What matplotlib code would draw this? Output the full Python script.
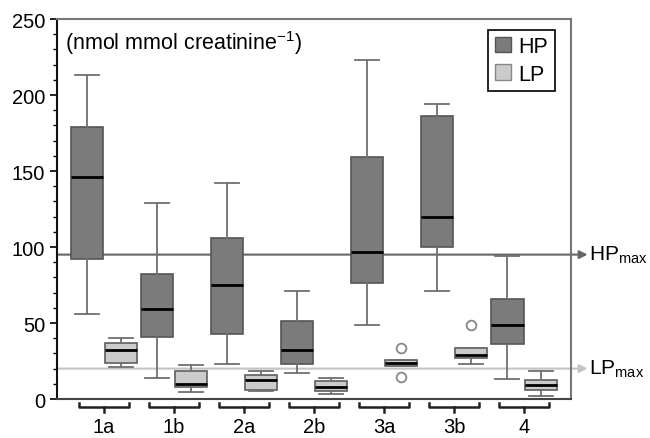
import numpy as np
import matplotlib
matplotlib.use("Agg")
import matplotlib.pyplot as plt
from matplotlib.patches import Patch
from matplotlib.ticker import MultipleLocator

plt.rcParams['font.family'] = ['Liberation Sans', 'DejaVu Sans']

# groups
groups = ['1a', '1b', '2a', '2b', '3a', '3b', '4']

# HP box stats (whisker low, q1, median, q3, whisker high)
hp_lo  = [56, 14, 23, 17, 49, 71, 13]
hp_q1  = [92, 41, 43, 23, 76, 100, 36]
hp_med = [146, 59, 75, 32, 97, 120, 49]
hp_q3  = [179, 82, 106, 51, 159, 186, 66]
hp_hi  = [213, 129, 142, 71, 223, 194, 94]

# LP box stats
lp_lo  = [21, 4.5, 5, 3.3, 21.5, 22.8, 1.8]
lp_q1  = [24, 8, 5.7, 5, 21.5, 26.8, 5.7]
lp_med = [32, 10, 12.7, 7.7, 23.7, 29.2, 9]
lp_q3  = [37, 18.4, 16, 11.6, 25.9, 33.3, 12.5]
lp_hi  = [40, 22.6, 18.6, 13.8, 25.9, 33.3, 18.6]
lp_fliers = [[], [], [], [], [33.5, 14.2], [48.9], []]

hp_max = 95
lp_max = 20

def make_stats(lo, q1, med, q3, hi, fl=None):
    out = []
    for i in range(len(lo)):
        out.append(dict(whislo=lo[i], q1=q1[i], med=med[i], q3=q3[i],
                        whishi=hi[i], fliers=(fl[i] if fl else [])))
    return out

fig = plt.figure(figsize=(6.5, 4.39), dpi=100)
ax = fig.add_axes([0.0877, 0.0888, 0.791, 0.8656])

x = np.arange(1, len(groups) + 1)
off = 0.24
w = 0.46

hp_col = '#7b7b7b'
lp_col = '#cbcbcb'
edge = '#555555'

# reference lines first so the boxes sit on top
trans = ax.get_yaxis_transform()
ax.annotate('', xy=(1.032, hp_max), xycoords=trans, xytext=(0, hp_max), textcoords=trans,
            arrowprops=dict(arrowstyle='-|>', color='#666666', lw=1.5, mutation_scale=12,
                            shrinkA=0, shrinkB=0), annotation_clip=False, zorder=1.5)
ax.annotate('', xy=(1.032, lp_max), xycoords=trans, xytext=(0, lp_max), textcoords=trans,
            arrowprops=dict(arrowstyle='-|>', color='#c4c4c4', lw=1.5, mutation_scale=12,
                            shrinkA=0, shrinkB=0), annotation_clip=False, zorder=1.5)
ax.text(1.035, hp_max, r'HP$_{\mathregular{max}}$', transform=trans, va='center', ha='left',
        fontsize=15, clip_on=False)
ax.text(1.035, lp_max, r'LP$_{\mathregular{max}}$', transform=trans, va='center', ha='left',
        fontsize=15, clip_on=False)

ax.bxp(make_stats(hp_lo, hp_q1, hp_med, hp_q3, hp_hi), positions=x - off,
       widths=w, capwidths=w * 0.75, patch_artist=True, showfliers=False,
       boxprops=dict(facecolor=hp_col, edgecolor=edge, lw=1.2),
       medianprops=dict(color='black', lw=2),
       whiskerprops=dict(color='#707070', lw=1.3),
       capprops=dict(color='#707070', lw=1.3))
ax.bxp(make_stats(lp_lo, lp_q1, lp_med, lp_q3, lp_hi, lp_fliers), positions=x + off,
       widths=w, capwidths=w * 0.75, patch_artist=True, showfliers=True,
       boxprops=dict(facecolor=lp_col, edgecolor='#5e5e5e', lw=1.2),
       medianprops=dict(color='black', lw=2),
       whiskerprops=dict(color='#707070', lw=1.3),
       capprops=dict(color='#707070', lw=1.3),
       flierprops=dict(marker='o', markerfacecolor='white', markeredgecolor='#888888',
                       markersize=7, markeredgewidth=1.3))

ax.set_xlim(0.33, 7.67)
ax.set_ylim(0, 250)

# group brackets under the axis
xt = ax.get_xaxis_transform()
for xi, g in zip(x, groups):
    ax.plot([xi - 0.36, xi - 0.36, xi + 0.36, xi + 0.36],
            [-0.0105, -0.021, -0.021, -0.0105], transform=xt, color='#222222',
            lw=1.8, clip_on=False)
    ax.plot([xi, xi], [-0.021, -0.034], transform=xt, color='#222222', lw=1.8, clip_on=False)
    ax.text(xi, -0.072, g, transform=xt, ha='center', va='center', fontsize=14.5)

ax.set_xticks([])
ax.yaxis.set_major_locator(MultipleLocator(50))
ax.yaxis.set_minor_locator(MultipleLocator(10))
ax.tick_params(axis='y', which='major', length=5, width=1.2, labelsize=14.5, direction='out')
ax.tick_params(axis='y', which='minor', length=3, width=1, direction='out')

for s in ['top', 'right']:
    ax.spines[s].set_color('#777777')
    ax.spines[s].set_linewidth(1.5)
ax.spines['bottom'].set_color('#444444')
ax.spines['bottom'].set_linewidth(1.5)
ax.spines['left'].set_color('#111111')
ax.spines['left'].set_linewidth(1.5)

ax.text(0.015, 0.94, r'(nmol mmol creatinine$^{\mathregular{-1}}$)', transform=ax.transAxes,
        fontsize=15.5, va='center', ha='left')

handles = [Patch(facecolor=hp_col, edgecolor='#555555', label='HP'),
           Patch(facecolor=lp_col, edgecolor='#888888', label='LP')]
leg = ax.legend(handles=handles, loc='upper right', bbox_to_anchor=(0.968, 0.972),
                fontsize=15.5, fancybox=False, edgecolor='black', framealpha=1,
                handlelength=0.75, handleheight=0.75, handletextpad=0.35,
                borderpad=0.3, labelspacing=0.3, borderaxespad=0)
leg.get_frame().set_linewidth(1.2)

fig.savefig('out.png', dpi=100)
